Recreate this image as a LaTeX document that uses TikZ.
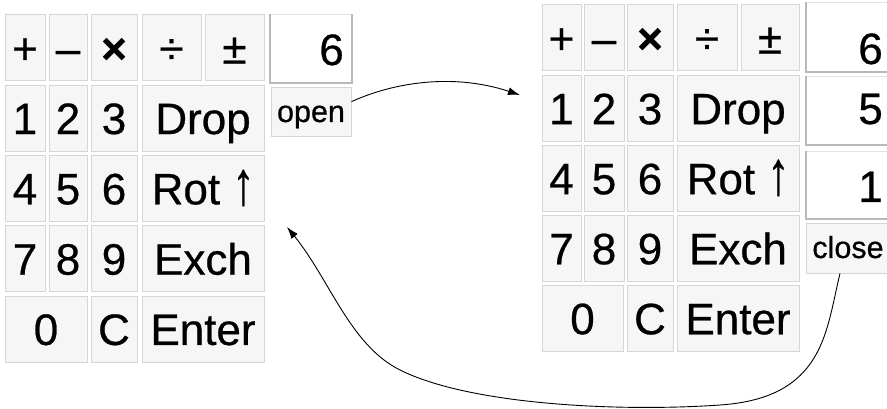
\documentclass[tikz,border=0pt]{standalone}
\usepackage{fontspec}
\setmainfont{Liberation Sans}
\newfontfamily\keyfam[FakeBold=0.6]{Liberation Sans}
\usetikzlibrary{arrows.meta}
\newcommand\mykey[5]{\node[keybtn, minimum width={#3-#2}] (#1) at ({(#2+#3)/2},#4) {#5};}
\newcommand\uparr{\scalebox{1}[1.4]{↑}}
\begin{document}
\begin{tikzpicture}[x=1pt,y=-1pt,
  keybtn/.style={draw=gray!32, fill=gray!7, line width=1pt, inner sep=0pt,
    minimum height=66pt, text height=31.5pt, text depth=0pt,
    font={\keyfam\fontsize{44}{44}\selectfont}},
  smallbtn/.style={draw=gray!32, fill=gray!7, line width=1pt, inner sep=0pt,
    text height=19pt, text depth=0pt,
    font={\keyfam\fontsize{30.5}{30.5}\selectfont}},
  disp/.style={fill=white, draw=gray!22, line width=1pt, inner sep=0pt},
  dispedge/.style={draw=gray!55, line width=2pt},
  numtxt/.style={inner sep=0pt, font={\keyfam\fontsize{44}{44}\selectfont}},
  conn/.style={draw=black, line width=0.9pt, -{Latex[length=12pt,width=8pt]}}]
\useasboundingbox (0,0) rectangle (887,409);
\begin{scope}
\clip (0,0) rectangle (887,409);
% ---------- left calculator ----------
\mykey{lplus}{5}{45}{48}{+}
\mykey{lminus}{49}{87}{48}{–}
\mykey{ltimes}{91}{137}{48}{\bfseries ×}
\mykey{ldiv}{142}{201}{48}{÷}
\mykey{lpm}{205}{264}{48}{±}
\mykey{lone}{5}{45}{118.3}{1}
\mykey{ltwo}{49}{87}{118.3}{2}
\mykey{lthree}{91}{137}{118.3}{3}
\mykey{ldrop}{142}{264}{118.3}{Drop}
\mykey{lfour}{5}{45}{188.6}{4}
\mykey{lfive}{49}{87}{188.6}{5}
\mykey{lsix}{91}{137}{188.6}{6}
\mykey{lrot}{142}{264}{188.6}{Rot \uparr}
\mykey{lseven}{5}{45}{258.9}{7}
\mykey{leight}{49}{87}{258.9}{8}
\mykey{lnine}{91}{137}{258.9}{9}
\mykey{lexch}{142}{264}{258.9}{Exch}
\mykey{lzero}{5}{87}{329.2}{0}
\mykey{lc}{91}{137}{329.2}{C}
\mykey{lenter}{142}{264}{329.2}{Enter}
\node[disp, minimum width=81pt, minimum height=68pt] (ld) at (310.5,49) {};
\draw[dispedge] (ld.north west) -- (ld.south west) -- (ld.south east) -- (ld.north east);
\node[numtxt, anchor=base east] (ldn) at (344,65) {6};
\node[smallbtn, minimum width=80pt, minimum height=49pt] (open) at (311,112.5) {open};
% ---------- right calculator ----------
\mykey{rplus}{542}{581}{38}{+}
\mykey{rminus}{584}{624}{38}{–}
\mykey{rtimes}{627}{673}{38}{\bfseries ×}
\mykey{rdiv}{677}{737}{38}{÷}
\mykey{rpm}{741}{799}{38}{±}
\mykey{rone}{542}{581}{108.5}{1}
\mykey{rtwo}{584}{624}{108.5}{2}
\mykey{rthree}{627}{673}{108.5}{3}
\mykey{rdrop}{677}{799}{108.5}{Drop}
\mykey{rfour}{542}{581}{178.5}{4}
\mykey{rfive}{584}{624}{178.5}{5}
\mykey{rsix}{627}{673}{178.5}{6}
\mykey{rrot}{677}{799}{178.5}{Rot \uparr}
\mykey{rseven}{542}{581}{248.5}{7}
\mykey{reight}{584}{624}{248.5}{8}
\mykey{rnine}{627}{673}{248.5}{9}
\mykey{rexch}{677}{799}{248.5}{Exch}
\mykey{rzero}{542}{623}{318.5}{0}
\mykey{rc}{627}{673}{318.5}{C}
\mykey{renter}{677}{799}{318.5}{Enter}
\node[disp, minimum width=86pt, minimum height=69pt] (rd1) at (849,37.5) {};
\draw[dispedge] (rd1.north west) -- (rd1.south west) -- (rd1.south east);
\node[disp, minimum width=86pt, minimum height=68pt] (rd2) at (849,111) {};
\draw[dispedge] (rd2.north west) -- (rd2.south west) -- (rd2.south east);
\node[disp, minimum width=86pt, minimum height=67pt] (rd3) at (849,185) {};
\draw[dispedge] (rd3.north west) -- (rd3.south west) -- (rd3.south east);
\node[numtxt, anchor=base east] (rdn1) at (883,64) {6};
\node[numtxt, anchor=base east] (rdn2) at (883,124) {5};
\node[numtxt, anchor=base east] (rdn3) at (883,202) {1};
\node[smallbtn, minimum width=84pt, minimum height=49pt] (close) at (848,248.5) {close};
% ---------- connectors ----------
\coordinate (tipA) at (520,95);
\coordinate (tipB) at (287,227);
\draw[conn] (open.15) .. controls (390,84) and (450,72) .. (tipA);
\draw[conn] ([xshift=-8pt]close.south) .. controls (826,330) and (825,398) .. (720,405)
  .. controls (620,412) and (470,405) .. (400,370)
  .. controls (350,345) and (330,280) .. (tipB);
\end{scope}
\end{tikzpicture}
\end{document}
